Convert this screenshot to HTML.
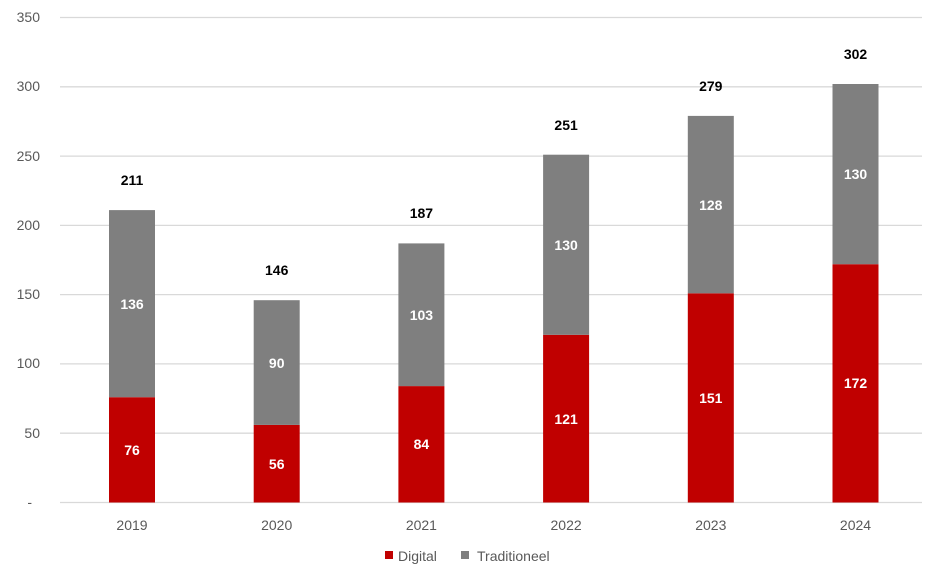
<!DOCTYPE html>
<html><head><style>body{margin:0;background:#fff}svg{display:block;font-family:"Liberation Sans",Arial,sans-serif}</style></head><body>
<svg width="944" height="583" viewBox="0 0 944 583">
<g stroke="#d9d9d9" stroke-width="1.3">
<line x1="60" x2="922" y1="17.5" y2="17.5"/><line x1="60" x2="922" y1="86.8" y2="86.8"/><line x1="60" x2="922" y1="156.1" y2="156.1"/><line x1="60" x2="922" y1="225.4" y2="225.4"/><line x1="60" x2="922" y1="294.6" y2="294.6"/><line x1="60" x2="922" y1="363.9" y2="363.9"/><line x1="60" x2="922" y1="433.2" y2="433.2"/><line x1="60" x2="922" y1="502.5" y2="502.5"/>
</g>
<g fill="#595959" font-size="14" text-anchor="end">
<text x="40" y="22">350</text><text x="40" y="91">300</text><text x="40" y="161">250</text><text x="40" y="230">200</text><text x="40" y="299">150</text><text x="40" y="368">100</text><text x="40" y="438">50</text><text x="32" y="507">-</text>
</g>
<g fill="#c00000">
<rect x="109" y="397.2" width="46" height="105.3"/>
<rect x="253.7" y="424.9" width="46" height="77.6"/>
<rect x="398.4" y="386.1" width="46" height="116.4"/>
<rect x="543.1" y="334.8" width="46" height="167.7"/>
<rect x="687.8" y="293.3" width="46" height="209.2"/>
<rect x="832.5" y="264.2" width="46" height="238.3"/>
</g>
<g fill="#7f7f7f">
<rect x="109" y="210.1" width="46" height="187.1"/>
<rect x="253.7" y="300.2" width="46" height="124.7"/>
<rect x="398.4" y="243.4" width="46" height="142.7"/>
<rect x="543.1" y="154.7" width="46" height="180.1"/>
<rect x="687.8" y="115.9" width="46" height="177.4"/>
<rect x="832.5" y="84" width="46" height="180.2"/>
</g>
<g fill="#fff" font-weight="bold" font-size="14" text-anchor="middle">
<text x="132" y="455">76</text><text x="132" y="309">136</text>
<text x="276.7" y="469">56</text><text x="276.7" y="368">90</text>
<text x="421.4" y="449">84</text><text x="421.4" y="320">103</text>
<text x="566.1" y="424">121</text><text x="566.1" y="250">130</text>
<text x="710.8" y="403">151</text><text x="710.8" y="210">128</text>
<text x="855.5" y="388">172</text><text x="855.5" y="179">130</text>
</g>
<g fill="#000" font-weight="bold" font-size="14" text-anchor="middle">
<text x="132" y="185">211</text><text x="276.7" y="275">146</text><text x="421.4" y="218">187</text>
<text x="566.1" y="130">251</text><text x="710.8" y="91">279</text><text x="855.5" y="59">302</text>
</g>
<g fill="#595959" font-size="14" text-anchor="middle">
<text x="132" y="530">2019</text><text x="276.7" y="530">2020</text><text x="421.4" y="530">2021</text>
<text x="566.1" y="530">2022</text><text x="710.8" y="530">2023</text><text x="855.5" y="530">2024</text>
</g>
<rect x="385" y="551" width="8" height="8" fill="#c00000"/>
<text x="398" y="561" fill="#595959" font-size="14">Digital</text>
<rect x="461" y="551" width="8" height="8" fill="#7f7f7f"/>
<text x="477" y="561" fill="#595959" font-size="14">Traditioneel</text>
</svg>
</body></html>
